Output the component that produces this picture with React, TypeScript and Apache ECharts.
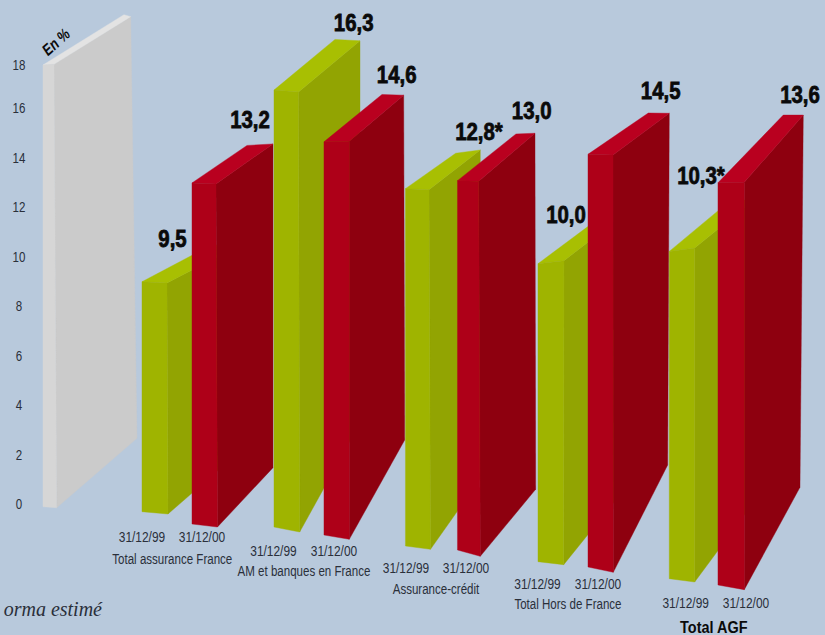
import React, { useEffect, useRef } from "react";
import * as echarts from "echarts";

// Solvency-style ratios, in percent, for each business line at the two year ends.
const categories = [
  "Total assurance France",
  "AM et banques en France",
  "Assurance-crédit",
  "Total Hors de France",
  "Total AGF",
];
const seriesNames = ["31/12/99", "31/12/00"];
const values1999 = [9.5, 16.3, 12.8, 10.0, 10.3];
const values2000 = [13.2, 14.6, 13.0, 14.5, 13.6];
const estimated1999 = [false, false, true, false, true];
const yTicks = [0, 2, 4, 6, 8, 10, 12, 14, 16, 18];
const wallTop = [18];
const unitLabel = "En %";
const footnote = "orma estimé";

// Oblique projection of each prism, relative to the point the axes give for it:
// ht  height factor, drop  base offset below the zero line, nudge  x offset,
// w / wb  front width at top / base, tt / bt  front edge tilt at top / base,
// bl / br  rear top corners, bb  rear bottom corner,
// lab  value label offset, date  date label offset, cat  category label offset.
type Prism = {
  ht: number; drop: number; nudge: number; w: number; wb: number; tt: number; bt: number;
  bl: number[]; br: number[]; bb: number[]; lab: number[]; date: number[]; cat?: number[];
};
const prisms1999: Prism[] = [
  { ht: 0.978, drop: 7.7, nudge: 0, w: 25, wb: 26, tt: 1.3, bt: 2.3, bl: [70, -37], br: [95, -35], bb: [95, -60], lab: [30.5, -42.7], date: [0, 25], cat: [30.3, 47.3] },
  { ht: 1.083, drop: 23, nudge: 0.25, w: 24.5, wb: 25.7, tt: 2, bt: 5, bl: [61, -50.7], br: [86, -49.3], bb: [86, -109], lab: [79.7, -67.3], date: [-0.5, 23], cat: [30, 44] },
  { ht: 1.128, drop: 42, nudge: 0, w: 23.5, wb: 25, tt: 1, bt: 3.3, bl: [50.2, -35.4], br: [74.8, -38.7], bb: [74.8, -70.5], lab: [73.5, -56.4], date: [0.5, 21], cat: [30.5, 43] },
  { ht: 1.204, drop: 57.7, nudge: 0.75, w: 26, wb: 25.7, tt: -3, bt: 3, bl: [60, -44.7], br: [86, -49.2], bb: [86, -74.8], lab: [28, -48.7], date: [-0.5, 21.3], cat: [30, 42] },
  { ht: 1.284, drop: 74.7, nudge: 0.3, w: 25.4, wb: 25.4, tt: -3.3, bt: 3.3, bl: [60, -50], br: [85.7, -52.5], bb: [85.7, -81.4], lab: [31.7, -75.3], date: [16.4, 23.6], cat: [44.5, 48] },
];
const prisms2000: Prism[] = [
  { ht: 1.044, drop: 20, nudge: 0, w: 24, wb: 25.5, tt: 1, bt: 3, bl: [55, -37.5], br: [81, -39], bb: [81, -59.3], lab: [58, -63], date: [10, 12.7] },
  { ht: 1.088, drop: 31, nudge: 0.25, w: 25.3, wb: 25.3, tt: -0.7, bt: 4.3, bl: [58, -47.4], br: [79.7, -46.7], bb: [80.7, -99.3], lab: [72.7, -66.7], date: [10, 15] },
  { ht: 1.148, drop: 46, nudge: 2, w: 21.2, wb: 22.8, tt: 0.6, bt: 6.3, bl: [58.5, -46.7], br: [77.5, -47.4], bb: [78.2, -67], lab: [74.2, -70], date: [8.5, 17] },
  { ht: 1.15, drop: 63, nudge: 0.75, w: 25, wb: 25.3, tt: 0.7, bt: 5.3, bl: [60.3, -41.3], br: [81.3, -41], bb: [79.7, -107.3], lab: [72.7, -63.6], date: [10, 16] },
  { ht: 1.195, drop: 81, nudge: -1, w: 26.3, wb: 26.3, tt: -0.4, bt: 4.7, bl: [65.3, -67.7], br: [85.3, -67.7], bb: [82, -102.4], lab: [82, -87.7], date: [28, 17.3] },
];
const wallPrism: Prism = {
  ht: 0.9915, drop: 2.7, nudge: 0, w: 11, wb: 13.7, tt: -0.7, bt: 1, bl: [81, -50.3], br: [87.7, -48.3], bb: [94, -69.4], lab: [0, 0], date: [0, 0],
};

const GREEN = { front: "#9fb400", side: "#92a402", top: "#a8bf02" };
const RED = { front: "#ae0018", side: "#8e000f", top: "#b9001f" };
const GREY = { front: "#d6d6d6", side: "#cbcbcb", top: "#e3e3e3" };
const INK = "#2a2f3a";
const BLACK = "#0a0a0a";
const SANS = '"Liberation Sans", Arial, sans-serif';
const LABEL_LAYER = 1000;

const formatValue = (v: number, star: boolean) =>
  v.toFixed(1).replace(".", ",") + (star ? "*" : "");

// Builds the three visible faces of one prism from the axis position of its value.
function prismFaces(api: any, p: Prism, colors: typeof GREEN, shift: number, layer: number) {
  const group = api.value(0);
  const value = api.value(1);
  const [cx, zeroY] = api.coord([group, 0]);
  const [, valueY] = api.coord([group, value]);
  const x = cx + shift + p.nudge;
  const yBase = zeroY + p.drop;
  const yTop = yBase - (zeroY - valueY) * p.ht;
  const backBottom = [x + p.bb[0], yBase + p.bt + p.bb[1]];
  const backLeft = [x + p.bl[0], yTop + p.bl[1]];
  const backRight = [x + p.br[0], yTop + p.br[1]];
  const topRight = [x + p.w, yTop + p.tt];
  const baseRight = [x + p.wb, yBase + p.bt];
  const face = (points: number[][], fill: string, z2: number) => ({
    type: "polygon",
    z2,
    shape: { points },
    style: { fill, stroke: fill, lineWidth: 0.4 },
  });
  return {
    x, yBase, yTop,
    faces: [
      face([topRight, backRight, backBottom, baseRight], colors.side, layer),
      face([[x, yTop], topRight, backRight, backLeft], colors.top, layer + 1),
      face([[x, yTop], topRight, baseRight, [x, yBase]], colors.front, layer + 2),
    ],
  };
}

// The condensed lettering is a regular sans squeezed horizontally.
const textEl = (
  text: string,
  x: number,
  y: number,
  font: string,
  fill = INK,
  squeeze = 0.77,
  weight = 0,
) => ({
  type: "text",
  x,
  y,
  scaleX: squeeze,
  z2: LABEL_LAYER,
  style: {
    text,
    x: 0,
    y: 0,
    font,
    fill,
    stroke: weight ? fill : undefined,
    lineWidth: weight,
    textAlign: "center",
    textVerticalAlign: "middle",
  },
});

function barSeries(
  name: string,
  values: number[],
  prisms: Prism[],
  colors: typeof GREEN,
  shift: number,
  layerStart: number,
  stars: boolean[],
) {
  return {
    type: "custom",
    name,
    coordinateSystem: "cartesian2d",
    clip: false,
    encode: { x: 0, y: 1 },
    data: values.map((v, i) => [i, v]),
    renderItem: (params: any, api: any) => {
      const i = params.dataIndex;
      const p = prisms[i];
      const { x, yBase, yTop, faces } = prismFaces(api, p, colors, shift, layerStart + i * 20);
      const children: any[] = [
        ...faces,
        textEl(
          formatValue(values[i], stars[i]),
          x + p.lab[0],
          yTop + p.lab[1],
          `bold 24px ${SANS}`,
          BLACK,
          0.85,
          0.8,
        ),
        textEl(name, x + p.date[0], yBase + p.date[1], `15.5px ${SANS}`),
      ];
      if (p.cat) {
        const isTotal = i === categories.length - 1;
        children.push(
          textEl(
            categories[i],
            x + p.cat[0],
            yBase + p.cat[1],
            isTotal ? `bold 17px ${SANS}` : `15px ${SANS}`,
            isTotal ? BLACK : INK,
            isTotal ? 0.85 : 0.77,
          ),
        );
      }
      return { type: "group", children };
    },
  };
}

export default function App() {
  const ref = useRef<HTMLDivElement>(null);

  useEffect(() => {
    document.body.style.margin = "0";
    const chart = echarts.init(ref.current!, undefined, { renderer: "svg" });
    chart.setOption({
      animation: false,
      backgroundColor: "#b8c9dc",
      grid: { left: 101.1, width: 658.75, top: 58.5, height: 445.5, containLabel: false },
      xAxis: { type: "category", data: categories, show: false },
      yAxis: {
        type: "value",
        min: yTicks[0],
        max: yTicks[yTicks.length - 1],
        interval: 2,
        axisLine: { show: false },
        axisTick: { show: false },
        splitLine: { show: false },
        axisLabel: { show: false },
      },
      series: [
        {
          type: "custom",
          name: "scale",
          coordinateSystem: "cartesian2d",
          clip: false,
          encode: { x: 0, y: 1 },
          data: wallTop.map((v) => [0, v]),
          renderItem: (_: any, api: any) => ({
            type: "group",
            children: prismFaces(api, wallPrism, GREY, -124, 0).faces,
          }),
        },
        {
          // Tick labels placed at the axis scale; the top one sits a little lower.
          type: "custom",
          name: "ticks",
          coordinateSystem: "cartesian2d",
          clip: false,
          encode: { x: 0, y: 1 },
          data: yTicks.map((t) => [0, t]),
          renderItem: (_: any, api: any) => {
            const tick = api.value(1);
            const [cx, y] = api.coord([0, tick]);
            return textEl(String(tick), cx - 148, y + (tick === 18 ? 6.5 : 0), `15px ${SANS}`);
          },
        },
        barSeries(seriesNames[0], values1999, prisms1999, GREEN, -25, 10, estimated1999),
        barSeries(
          seriesNames[1],
          values2000,
          prisms2000,
          RED,
          25,
          20,
          values2000.map(() => false),
        ),
      ],
      graphic: [
        {
          type: "text",
          x: 56,
          y: 42,
          rotation: (42 * Math.PI) / 180,
          scaleX: 0.8,
          style: {
            text: unitLabel,
            font: `italic bold 16px ${SANS}`,
            fill: BLACK,
            textAlign: "center",
            textVerticalAlign: "middle",
          },
        },
        {
          type: "text",
          x: 102,
          y: 609,
          style: {
            text: footnote,
            font: 'italic 20px "Liberation Serif", serif',
            fill: INK,
            textAlign: "right",
            textVerticalAlign: "middle",
          },
        },
      ],
    });
    return () => chart.dispose();
  }, []);

  return <div ref={ref} style={{ width: 825, height: 635 }} />;
}
